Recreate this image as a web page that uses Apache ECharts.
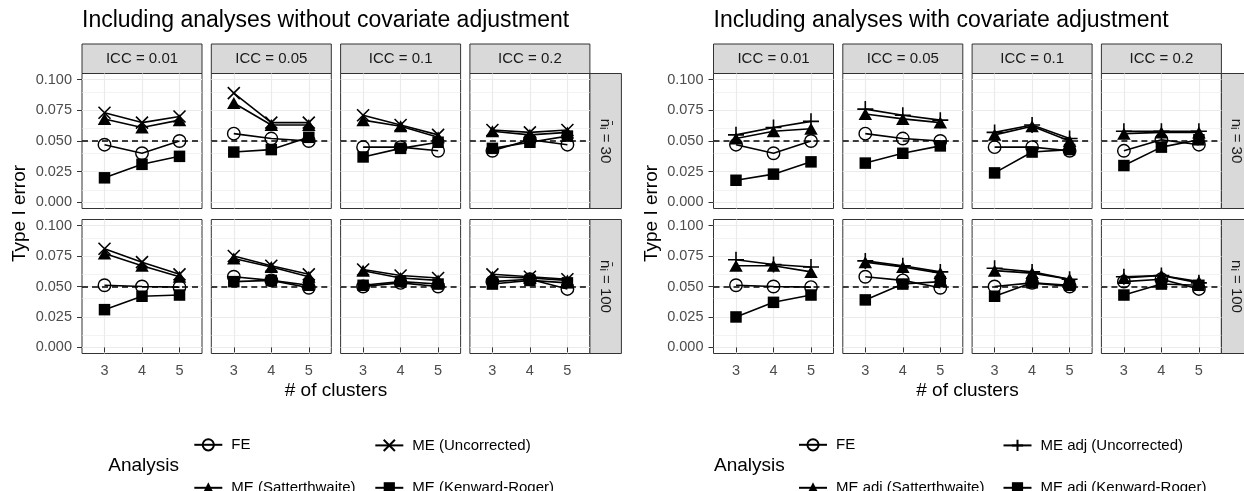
<!DOCTYPE html>
<html><head><meta charset="utf-8">
<script src="https://cdn.jsdelivr.net/npm/echarts@6/dist/echarts.min.js"></script>
<style>html,body{margin:0;padding:0;background:#fff}#c{width:1244px;height:491px}</style>
</head><body><div id="c"></div>
<script>
// ---------------- data ----------------
const clusters = [3, 4, 5];
const iccLabels = ['ICC = 0.01', 'ICC = 0.05', 'ICC = 0.1', 'ICC = 0.2'];
const nLabels = ['n\u0304\u1D62 = 30', 'n\u0304\u1D62 = 100'];
const yTicks = [0, 0.025, 0.05, 0.075, 0.1];
const yMinor = [0.0125, 0.0375, 0.0625, 0.0875];
const refLine = 0.05;
const titles = ['Including analyses without covariate adjustment', 'Including analyses with covariate adjustment'];
const namesLeft = ['FE', 'ME (Uncorrected)', 'ME (Satterthwaite)', 'ME (Kenward-Roger)'];
const namesRight = ['FE', 'ME adj (Uncorrected)', 'ME adj (Satterthwaite)', 'ME adj (Kenward-Roger)'];

// each array: one row per ICC (0.01, 0.05, 0.1, 0.2), values for 3, 4, 5 clusters
const fe_n30  = [[0.047,0.040,0.050],[0.056,0.052,0.050],[0.045,0.045,0.042],[0.042,0.051,0.047]];
const fe_n100 = [[0.051,0.050,0.0495],[0.058,0.055,0.049],[0.050,0.053,0.050],[0.054,0.056,0.048]];

const meUnc_n30   = [[0.073,0.065,0.070],[0.089,0.065,0.065],[0.071,0.063,0.055],[0.059,0.057,0.059]];
const meUnc_n100  = [[0.081,0.070,0.060],[0.075,0.067,0.060],[0.064,0.059,0.057],[0.060,0.058,0.056]];
const meSatt_n30  = [[0.068,0.061,0.067],[0.081,0.063,0.063],[0.067,0.062,0.053],[0.058,0.055,0.057]];
const meSatt_n100 = [[0.077,0.067,0.058],[0.073,0.066,0.058],[0.063,0.057,0.055],[0.058,0.057,0.055]];
const meKR_n30    = [[0.020,0.031,0.0375],[0.041,0.043,0.053],[0.037,0.044,0.049],[0.044,0.049,0.054]];
const meKR_n100   = [[0.031,0.042,0.043],[0.054,0.055,0.051],[0.051,0.054,0.052],[0.052,0.055,0.053]];

const adjUnc_n30   = [[0.055,0.061,0.066],[0.076,0.071,0.067],[0.057,0.063,0.052],[0.058,0.058,0.058]];
const adjUnc_n100  = [[0.072,0.068,0.066],[0.071,0.067,0.062],[0.065,0.062,0.056],[0.058,0.059,0.053]];
const adjSatt_n30  = [[0.052,0.058,0.060],[0.072,0.068,0.065],[0.055,0.062,0.050],[0.056,0.057,0.057]];
const adjSatt_n100 = [[0.067,0.067,0.062],[0.070,0.066,0.061],[0.063,0.061,0.056],[0.057,0.059,0.054]];
const adjKR_n30    = [[0.018,0.023,0.033],[0.032,0.040,0.046],[0.024,0.041,0.043],[0.030,0.045,0.051]];
const adjKR_n100   = [[0.025,0.037,0.043],[0.039,0.052,0.054],[0.042,0.053,0.051],[0.043,0.052,0.051]];

// ---------------- layout / style ----------------
const FONT = "'Liberation Sans', Arial, Helvetica, sans-serif";
const chartX0 = [82, 713.5];
const PW = 120, PGAP = 9.3;
const rowTop = [73.5, 219.5], rowH = [135, 134];
const stripTop = 44, stripH = 29.5, rStripW = 31.5;
const pathX = 'path://M0,0L10,10M10,0L0,10';
const pathPlus = 'path://M5,0L5,10M0,5L10,5';

function markerStyle(kind) {
  if (kind === 'circle') return {symbol: 'circle', symbolSize: 12.5, itemStyle: {color: 'rgba(0,0,0,0)', borderColor: '#000', borderWidth: 1.4}};
  if (kind === 'x') return {symbol: pathX, symbolSize: 12, itemStyle: {color: 'none', borderColor: '#000', borderWidth: 1.6}};
  if (kind === 'plus') return {symbol: pathPlus, symbolSize: 16, itemStyle: {color: 'none', borderColor: '#000', borderWidth: 1.6}};
  if (kind === 'tri') return {symbol: 'triangle', symbolSize: [13.5, 12], itemStyle: {color: '#000', borderWidth: 0}};
  return {symbol: 'rect', symbolSize: 11.5, itemStyle: {color: '#000', borderWidth: 0}};
}

const charts = [
  {title: titles[0], names: namesLeft, kinds: ['circle','x','tri','rect'],
   data: [[fe_n30, fe_n100],[meUnc_n30, meUnc_n100],[meSatt_n30, meSatt_n100],[meKR_n30, meKR_n100]],
   legendKeyX: [193.3, 374.3], legendTitleX: 108.3},
  {title: titles[1], names: namesRight, kinds: ['circle','plus','tri','rect'],
   data: [[fe_n30, fe_n100],[adjUnc_n30, adjUnc_n100],[adjSatt_n30, adjSatt_n100],[adjKR_n30, adjKR_n100]],
   legendKeyX: [798, 1002.5], legendTitleX: 714}
];
const legendRowY = [444.3, 487.3];

const grids = [], xAxes = [], yAxes = [], series = [], graphics = [], legends = [];

charts.forEach((ch, c) => {
  const x0 = chartX0[c];
  const totalW = 4 * PW + 3 * PGAP;
  graphics.push({type: 'text', x: x0, y: 21, style: {text: ch.title, font: '23px ' + FONT, fill: '#000', align: 'left', verticalAlign: 'middle'}});
  graphics.push({type: 'text', x: x0 - 62, y: (rowTop[0] + rowTop[1] + rowH[1]) / 2, rotation: Math.PI / 2,
    style: {text: 'Type I error', font: '19px ' + FONT, fill: '#000', align: 'center', verticalAlign: 'middle'}});
  graphics.push({type: 'text', x: x0 + totalW / 2, y: 390.7,
    style: {text: '# of clusters', font: '19px ' + FONT, fill: '#000', align: 'center', verticalAlign: 'middle'}});
  graphics.push({type: 'text', x: ch.legendTitleX, y: 465.7, style: {text: 'Analysis', font: '19px ' + FONT, fill: '#000', align: 'left', verticalAlign: 'middle'}});

  for (let j = 0; j < 4; j++) {
    const left = x0 + j * (PW + PGAP);
    graphics.push({type: 'rect', shape: {x: left, y: stripTop, width: PW, height: stripH}, style: {fill: '#D9D9D9', stroke: '#333', lineWidth: 1}});
    graphics.push({type: 'text', x: left + PW / 2, y: stripTop + stripH / 2, style: {text: iccLabels[j], font: '15px ' + FONT, fill: '#1A1A1A', align: 'center', verticalAlign: 'middle'}});
  }
  for (let r = 0; r < 2; r++) {
    const sx = x0 + totalW;
    graphics.push({type: 'rect', shape: {x: sx, y: rowTop[r], width: rStripW, height: rowH[r]}, style: {fill: '#D9D9D9', stroke: '#333', lineWidth: 1}});
    graphics.push({type: 'text', x: sx + 15, y: rowTop[r] + rowH[r] / 2, rotation: -Math.PI / 2,
      style: {text: nLabels[r], font: '15px ' + FONT, fill: '#1A1A1A', align: 'center', verticalAlign: 'middle'}});
  }

  for (let r = 0; r < 2; r++) for (let j = 0; j < 4; j++) {
    const gi = grids.length;
    const left = x0 + j * (PW + PGAP);
    grids.push({left: left, top: rowTop[r], width: PW, height: rowH[r], show: true, borderColor: '#333', borderWidth: 1,
      backgroundColor: '#fff', containLabel: false, outerBoundsMode: 'none'});
    xAxes.push({type: 'value', gridIndex: gi, min: 2.4, max: 5.6,
      axisLine: {show: false},
      axisTick: {show: r === 1, customValues: clusters, length: 5, lineStyle: {color: '#333', width: 1}},
      axisLabel: {show: r === 1, customValues: clusters, color: '#4D4D4D', fontSize: 14.5, fontFamily: FONT, margin: 10},
      splitLine: {show: true, lineStyle: {color: '#EBEBEB', width: 1.2}}});
    yAxes.push({type: 'value', gridIndex: gi, min: -0.005, max: 0.105,
      axisLine: {show: false},
      axisTick: {show: j === 0, customValues: yTicks, length: 5, lineStyle: {color: '#333', width: 1}},
      axisLabel: {show: j === 0, customValues: yTicks, color: '#4D4D4D', fontSize: 14.5, fontFamily: FONT, margin: 10,
        formatter: v => v.toFixed(3)},
      splitLine: {show: true, lineStyle: {color: '#EBEBEB', width: 1.2}}});
    series.push({type: 'line', name: '_ref', xAxisIndex: gi, yAxisIndex: gi, data: [], z: 1, silent: true,
      markLine: {silent: true, symbol: 'none', z: 1, label: {show: false}, animation: false,
        data: yMinor.map(v => ({yAxis: v, lineStyle: {color: '#EBEBEB', width: 0.6, type: 'solid'}}))
          .concat([{yAxis: refLine, lineStyle: {color: '#000', width: 1.5, type: [6, 4]}}])}});
    ch.data.forEach((arr, k) => {
      const m = markerStyle(ch.kinds[k]);
      series.push(Object.assign({type: 'line', name: ch.names[k], xAxisIndex: gi, yAxisIndex: gi, z: 3,
        data: clusters.map((x, q) => [x, arr[r][j][q]]),
        lineStyle: {color: '#000', width: 1.6}, showSymbol: true, emphasis: {disabled: true}, animation: false}, m));
    });
  }

  ch.names.forEach((nm, k) => {
    legends.push({data: [nm], left: ch.legendKeyX[k % 2], top: legendRowY[Math.floor(k / 2)] - 7, orient: 'horizontal',
      padding: 0, itemWidth: 28, itemHeight: 14, itemGap: 0, selectedMode: false,
      textStyle: {fontFamily: FONT, fontSize: 15, color: '#000', padding: [0, 0, 0, 4]}});
  });
});

const chart = echarts.init(document.getElementById('c'), null, {renderer: 'canvas'});
chart.setOption({
  backgroundColor: '#fff',
  animation: false,
  grid: grids, xAxis: xAxes, yAxis: yAxes, series: series, legend: legends,
  graphic: {elements: graphics}
});
</script>
</body></html>
